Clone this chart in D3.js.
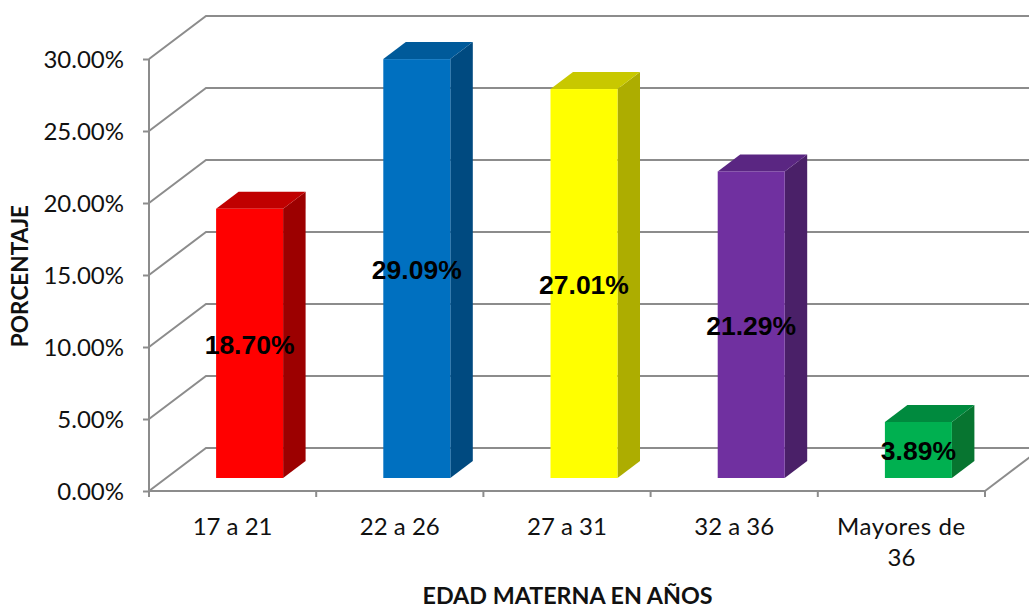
<!DOCTYPE html>
<html>
<head>
<meta charset="utf-8">
<script src="https://cdn.jsdelivr.net/npm/d3@7"></script>
<style>
  html, body { margin: 0; padding: 0; background: #fff; overflow: hidden; }
  text { font-family: Lato, sans-serif; fill: #111; }
  .axis path, .axis line, .grid { stroke: #8c8c8c; stroke-width: 2; fill: none; }
</style>
</head>
<body>
<svg width="1029" height="609"></svg>
<script>
// data
var categories = ["17 a 21", "22 a 26", "27 a 31", "32 a 36", "Mayores de 36"];
var values = [18.70, 29.09, 27.01, 21.29, 3.89];
var tickValues = [0, 5, 10, 15, 20, 25, 30];
var frontColors = ["#ff0000", "#0070c0", "#ffff00", "#7030a0", "#00b050"];
var topColors = ["#c00000", "#005a9a", "#c8c800", "#5a2682", "#008a3e"];
var sideColors = ["#9c0000", "#004a80", "#adad00", "#4a2068", "#077530"];

var svg = d3.select("svg");

var x = d3.scaleBand().domain(categories).range([149, 985]);
var y = d3.scaleLinear().domain([0, 30]).range([491, 59]);

// depth of the 3d box
var depthX = 57, depthY = -43;
var barInX = 17, barInY = -13, barDepthX = 22.5, barDepthY = -17;
var barW = 67;

// walls: back grid + side lines
tickValues.concat([35]).forEach(function(t) {
  var py = t == 35 ? y(30) - 72 : y(t);
  svg.append("path").attr("class", "grid")
    .attr("d", d3.line()([[149, py], [149 + depthX, py + depthY], [1029, py + depthY]]));
});
// right edge of the floor
svg.append("path").attr("class", "grid")
  .attr("d", d3.line()([[985, 491], [985 + depthX, 491 + depthY]]));

// axes
var yAxis = d3.axisLeft(y).tickValues(tickValues).tickSize(6).tickSizeOuter(0)
  .tickFormat(function(d) { return d.toFixed(2) + "%"; });
var gy = svg.append("g").attr("class", "axis").attr("transform", "translate(149,0)").call(yAxis);
gy.select(".domain").attr("d", d3.line()([[0, y(30)], [0, y(0)]]));
gy.selectAll("text").attr("x", -25).attr("dy", "0.37em").style("font-size", "24px");

var gx = svg.append("g").attr("class", "axis").attr("transform", "translate(0,491)");
gx.append("path").attr("d", d3.line()([[149, 0], [985, 0]]));
d3.range(categories.length + 1).forEach(function(i) {
  var px = 149 + i * x.step();
  gx.append("line").attr("x1", px).attr("x2", px).attr("y1", 0).attr("y2", 6);
});

// category labels, last one wraps
categories.forEach(function(c) {
  var lines = c.length > 10 ? ["Mayores de", "36"] : [c];
  lines.forEach(function(l, i) {
    svg.append("text")
      .attr("x", x(c) + x.bandwidth() / 2)
      .attr("y", 527 + i * 31)
      .attr("dy", "0.35em")
      .attr("text-anchor", "middle")
      .style("font-size", "24px")
      .style("letter-spacing", l.length > 7 ? "0.6px" : null)
      .text(l);
  });
});

// bars
var bars = svg.selectAll(".bar").data(values).enter().append("g").attr("class", "bar");
var left = function(i) { return x(categories[i]) + (x.bandwidth() - barW) / 2 + barInX; };
var base = y(0) + barInY;
var topY = function(d) { return base - (y(0) - y(d)); };

bars.append("path")
  .attr("fill", function(d, i) { return sideColors[i]; })
  .attr("d", function(d, i) {
    var r = left(i) + barW;
    return d3.line()([[r, topY(d)], [r + barDepthX, topY(d) + barDepthY], [r + barDepthX, base + barDepthY], [r, base]]) + "Z";
  });
bars.append("path")
  .attr("fill", function(d, i) { return topColors[i]; })
  .attr("d", function(d, i) {
    var l = left(i), t = topY(d);
    return d3.line()([[l, t], [l + barDepthX, t + barDepthY], [l + barW + barDepthX, t + barDepthY], [l + barW, t]]) + "Z";
  });
bars.append("rect")
  .attr("x", function(d, i) { return left(i); })
  .attr("y", topY)
  .attr("width", barW)
  .attr("height", function(d) { return base - topY(d); })
  .attr("fill", function(d, i) { return frontColors[i]; });

// value labels
bars.append("text")
  .attr("x", function(d, i) { return left(i) + barW / 2; })
  .attr("y", function(d) { return (topY(d) + base) / 2 + 1; })
  .attr("dy", "0.35em")
  .attr("text-anchor", "middle")
  .style("font-family", "'Liberation Sans', Arial, sans-serif")
  .style("font-weight", "bold")
  .style("font-size", "26.5px")
  .style("fill", "#000")
  .text(function(d) { return d.toFixed(2) + "%"; });

// axis titles
svg.append("text")
  .attr("x", 567.5).attr("y", 596).attr("dy", "0.35em")
  .attr("text-anchor", "middle")
  .style("font-weight", "bold").style("font-size", "23.3px")
  .text("EDAD MATERNA EN AÑOS");
svg.append("text")
  .attr("transform", "translate(20,276) rotate(-90)")
  .attr("dy", "0.35em")
  .attr("text-anchor", "middle")
  .style("font-weight", "bold").style("font-size", "22.6px")
  .text("PORCENTAJE");
</script>
</body>
</html>
